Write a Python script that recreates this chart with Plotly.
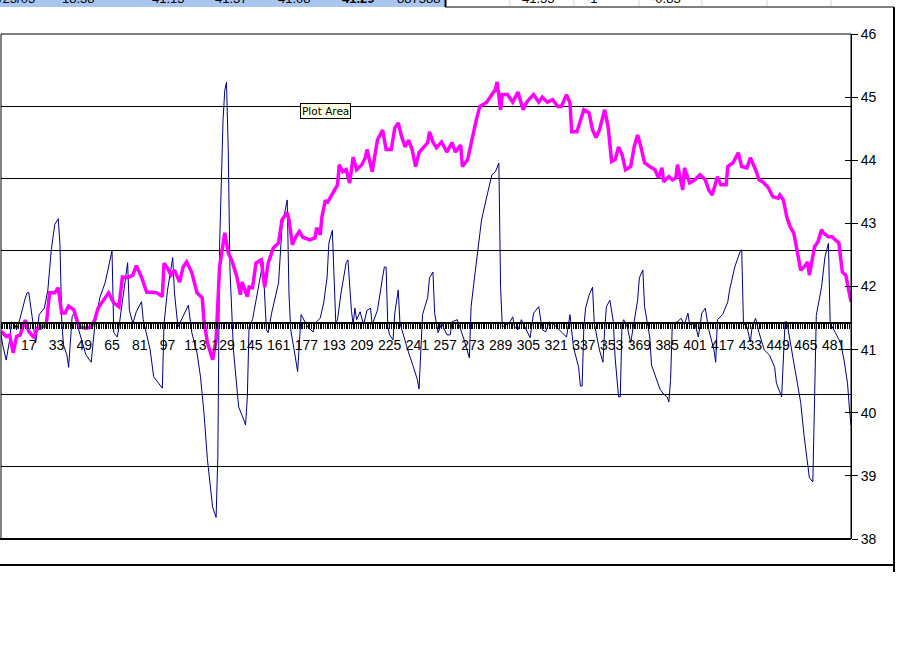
import plotly.graph_objects as go

# ---------------- data ----------------
mag_idx = [1, 4, 6, 8, 10, 12, 15, 17, 20, 22, 24, 26, 27, 29, 32, 34, 36, 38, 40, 43, 46, 50, 53, 55, 57,
           61, 63, 66, 69, 71, 74, 77, 79, 82, 85, 88, 91, 94, 95, 97, 99, 101, 104, 106, 108, 111, 114, 117,
           118, 120, 123, 125, 127, 130, 132, 134, 137, 139, 140, 143, 144, 146, 148, 151, 153, 155, 158, 161,
           163, 166, 167, 169, 171, 173, 175, 179, 182, 183, 185, 186, 188, 189, 192, 195, 196, 198, 200, 202,
           204, 206, 209, 211, 212, 215, 218, 221, 223, 226, 228, 230, 232, 234, 236, 238, 240, 242, 247, 248,
           250, 252, 255, 258, 261, 263, 266, 267, 270, 273, 275, 277, 281, 284, 286, 287, 289, 290, 293, 296,
           299, 302, 304, 308, 311, 313, 316, 319, 322, 324, 327, 329, 330, 333, 335, 337, 340, 342, 344, 346,
           349, 351, 353, 355, 357, 359, 361, 364, 366, 368, 370, 372, 375, 378, 380, 382, 383, 386, 388, 390,
           391, 394, 395, 398, 401, 404, 407, 409, 411, 414, 416, 419, 420, 423, 426, 428, 431, 433, 436, 438,
           440, 443, 446, 449, 450, 452, 454, 456, 458, 460, 462, 464, 466, 467, 470, 472, 474, 475, 478, 480,
           482, 484, 486, 488, 490, 491]
mag_val = [41.29, 41.21, 41.23, 40.95, 41.21, 41.23, 41.47, 41.29, 41.19, 41.34, 41.34, 41.39, 41.36, 41.90,
           41.90, 41.98, 41.58, 41.58, 41.69, 41.63, 41.36, 41.34, 41.36, 41.47, 41.66, 41.82, 41.90, 41.74,
           41.68, 42.15, 42.14, 42.18, 42.33, 42.15, 41.91, 41.91, 41.90, 41.84, 42.37, 42.29, 42.18, 42.26,
           42.07, 42.31, 42.39, 42.22, 41.90, 41.82, 41.47, 41.11, 40.84, 41.15, 42.31, 42.85, 42.53, 42.42,
           42.15, 41.87, 42.07, 41.84, 41.99, 41.98, 42.37, 42.42, 41.99, 42.37, 42.61, 42.69, 43.06, 43.17,
           43.06, 42.66, 42.79, 42.87, 42.78, 42.74, 42.77, 42.93, 42.82, 43.10, 43.37, 43.32, 43.48, 43.61,
           43.93, 43.82, 43.85, 43.64, 44.05, 43.85, 43.93, 44.04, 44.17, 43.82, 44.32, 44.48, 44.17, 44.17,
           44.51, 44.59, 44.37, 44.21, 44.32, 44.17, 43.90, 44.12, 44.28, 44.45, 44.29, 44.20, 44.29, 44.13,
           44.28, 44.13, 44.24, 43.90, 44.01, 44.43, 44.64, 44.85, 44.92, 45.04, 45.12, 45.24, 44.80, 45.04,
           45.04, 44.92, 45.08, 44.80, 44.92, 45.04, 44.92, 45.00, 44.92, 44.96, 44.85, 44.85, 45.04, 44.91,
           44.45, 44.45, 44.64, 44.80, 44.75, 44.48, 44.36, 44.48, 44.80, 44.53, 43.98, 44.01, 44.21, 44.09,
           43.85, 43.90, 44.21, 44.40, 44.20, 43.96, 43.90, 43.85, 43.72, 43.88, 43.66, 43.74, 43.69, 43.72,
           43.93, 43.53, 43.88, 43.64, 43.69, 43.77, 43.69, 43.53, 43.45, 43.74, 43.61, 43.61, 43.90, 43.96,
           44.12, 43.90, 43.88, 44.04, 43.85, 43.69, 43.66, 43.58, 43.42, 43.40, 43.45, 43.37, 43.10, 42.94,
           42.85, 42.58, 42.26, 42.31, 42.39, 42.18, 42.63, 42.71, 42.90, 42.85, 42.79, 42.79, 42.74, 42.69,
           42.23, 42.18, 41.90, 41.76]

blue_idx = [1, 2, 4, 6, 7, 9, 10, 12, 15, 16, 17, 19, 20, 21, 23, 26, 28, 30, 32, 34, 35, 36, 37, 39, 40, 42,
            43, 46, 50, 53, 55, 58, 61, 63, 65, 66, 68, 69, 72, 74, 75, 77, 79, 82, 83, 87, 89, 94, 95, 97, 100,
            101, 103, 105, 107, 109, 111, 114, 116, 117, 118, 120, 123, 125, 126, 127, 128, 129, 130, 131, 132,
            133, 135, 137, 138, 141, 142, 143, 144, 146, 149, 152, 154, 155, 157, 161, 163, 166, 167, 168, 170,
            172, 174, 175, 178, 181, 182, 185, 187, 189, 190, 192, 194, 195, 197, 200, 201, 203, 204, 205, 206,
            208, 210, 212, 214, 215, 218, 221, 222, 223, 224, 225, 227, 228, 230, 231, 234, 236, 238, 241, 242,
            244, 247, 248, 250, 251, 252, 253, 255, 258, 260, 261, 264, 265, 268, 271, 272, 274, 276, 278, 281,
            284, 286, 288, 289, 290, 292, 294, 296, 297, 299, 301, 302, 306, 308, 311, 313, 315, 317, 320, 324,
            327, 329, 331, 334, 335, 336, 337, 338, 340, 342, 343, 346, 348, 349, 350, 352, 354, 355, 357, 358,
            359, 360, 362, 364, 366, 368, 369, 371, 372, 375, 376, 379, 381, 383, 385, 386, 387, 388, 391, 393,
            395, 397, 398, 401, 403, 405, 407, 409, 412, 413, 414, 417, 420, 421, 424, 427, 428, 429, 431, 433,
            434, 436, 438, 441, 444, 447, 448, 451, 452, 453, 454, 456, 459, 462, 464, 466, 467, 469, 470, 471,
            474, 476, 478, 479, 482, 485, 487, 489, 490, 491]
blue_val = [-0.17, -0.31, -0.52, -0.24, 0.01, -0.03, -0.10, 0.06, 0.34, 0.41, 0.42, 0.06, -0.17, -0.28, 0.11,
            0.20, 0.45, 1.01, 1.36, 1.44, 1.08, 0.04, -0.31, -0.45, -0.62, 0.08, 0.13, -0.13, -0.45, -0.55,
            -0.06, 0.35, 0.55, 0.77, 1.00, -0.14, -0.20, -0.06, 0.49, 0.83, 0.17, -0.01, 0.15, 0.29, 0.04,
            -0.38, -0.75, -0.91, -0.01, 0.45, 0.90, 0.41, -0.06, 0.04, 0.13, 0.24, -0.14, -0.42, -0.75, -0.97,
            -1.25, -1.90, -2.56, -2.70, -1.86, 1.05, 1.98, 2.81, 3.22, 3.33, 2.39, 0.73, -0.38, -0.97, -1.17,
            -1.35, -1.42, -1.03, -0.06, 0.04, 0.45, 0.84, -0.10, -0.14, 0.13, 0.55, 1.33, 1.70, 0.41, -0.10,
            -0.38, -0.68, 0.11, 0.06, -0.07, -0.13, -0.01, 0.06, 0.27, 0.63, 1.10, 1.28, -0.01, 0.04, 0.41,
            0.83, 0.87, 0.17, -0.03, 0.20, 0.04, 0.15, -0.03, 0.17, 0.20, -0.03, 0.17, 0.63, 0.77, 0.77, -0.06,
            -0.17, -0.24, 0.13, 0.45, -0.01, -0.28, -0.42, -0.56, -0.79, -0.92, 0.11, 0.35, 0.62, 0.70, 0.13,
            -0.01, -0.14, -0.01, -0.17, -0.17, 0.01, 0.04, -0.03, -0.24, -0.49, 0.22, 0.63, 1.01, 1.42, 1.74,
            2.05, 2.09, 2.21, 0.49, -0.06, -0.03, -0.01, 0.08, -0.06, -0.10, 0.04, -0.01, -0.21, 0.13, 0.22,
            -0.10, -0.13, 0.01, -0.03, -0.13, -0.20, 0.11, -0.34, -0.62, -0.88, -0.88, -0.06, 0.20, 0.38, 0.49,
            -0.01, -0.38, -0.55, -0.10, 0.22, 0.31, 0.01, -0.48, -1.03, -1.03, -0.01, 0.04, -0.06, -0.28, -0.01,
            0.31, 0.62, 0.73, 0.22, -0.20, -0.59, -0.79, -0.93, -0.99, -1.03, -1.10, -0.79, -0.01, 0.01, 0.06,
            -0.03, 0.13, -0.03, -0.01, -0.20, 0.13, 0.20, -0.10, -0.38, -0.55, 0.04, 0.11, 0.29, 0.45, 0.77,
            0.98, 1.01, -0.01, -0.06, -0.27, -0.06, 0.06, -0.14, -0.38, -0.45, -0.62, -0.84, -1.03, -0.52,
            0.01, 0.01, -0.28, -0.70, -1.11, -1.58, -1.99, -2.15, -2.21, -1.20, 0.10, 0.49, 0.91, 1.10, -0.01,
            -0.14, -0.28, -0.52, -0.84, -1.17, -1.42]

x_tickvals = [1, 17, 33, 49, 65, 81, 97, 113, 129, 145, 161, 177, 193, 209, 225, 241, 257, 273, 289, 305,
              321, 337, 353, 369, 385, 401, 417, 433, 449, 465, 481]
x_ticktext = [str(v) for v in x_tickvals]
right_ticks = [38, 39, 40, 41, 42, 43, 44, 45, 46]

sheet_left = ["/23/03", "18.38", "41.13", "41.37", "41.08", "41.29", "887388"]
sheet_right = ["41.33", "-1", "-0.83"]

# ---------------- layout helpers ----------------
W, H = 897, 645
L, R, T, B = 1, 46, 34, 106
PW, PH = W - L - R, H - T - B


def px(xp):
    return (xp - L) / PW


def py(yp):
    return (H - B - yp) / PH


fig = go.Figure()
fig.add_trace(go.Scatter(x=blue_idx, y=blue_val, mode="lines", yaxis="y",
                         line=dict(color="#000080", width=1), showlegend=False, hoverinfo="skip"))
fig.add_trace(go.Scatter(x=mag_idx, y=mag_val, mode="lines", yaxis="y2",
                         line=dict(color="#FF00FF", width=3.5), showlegend=False, hoverinfo="skip"))
# invisible trace to activate the inside-tick overlay axis
fig.add_trace(go.Scatter(x=[mag_idx[0]], y=[mag_val[0]], mode="lines", yaxis="y3",
                         line=dict(color="rgba(0,0,0,0)"), showlegend=False, hoverinfo="skip"))

font = "Liberation Sans, Arial, sans-serif"

fig.update_layout(
    width=W, height=H, autosize=False,
    margin=dict(l=L, r=R, t=T, b=B, pad=0, autoexpand=False),
    paper_bgcolor="white", plot_bgcolor="white",
    xaxis=dict(range=[1, 491], anchor="free", position=3 / 7,
               showline=True, linecolor="black", linewidth=2,
               tickmode="array", tickvals=x_tickvals, ticktext=x_ticktext,
               ticks="outside", ticklen=5, tickcolor="black", tickwidth=1,
               minor=dict(dtick=1, tick0=1, ticks="outside", ticklen=5, tickcolor="black", tickwidth=1,
                          showgrid=False),
               tickangle=0, ticklabelstandoff=5, automargin=False,
               tickfont=dict(family=font, size=14, color="black"),
               showgrid=False, zeroline=False, fixedrange=True),
    yaxis=dict(range=[-3, 4], dtick=1, tick0=0, showgrid=True, gridcolor="black", gridwidth=1,
               showticklabels=False, ticks="", showline=False, zeroline=False, fixedrange=True,
               automargin=False),
    yaxis2=dict(range=[38, 46], overlaying="y", side="right", anchor="x",
                tickmode="array", tickvals=right_ticks,
                showline=True, linecolor="black", linewidth=1,
                ticks="outside", ticklen=6, tickcolor="black", automargin=False,
                tickfont=dict(family=font, size=14, color="black"),
                showgrid=False, zeroline=False, fixedrange=True),
    yaxis3=dict(range=[38, 46], overlaying="y", side="right", anchor="x",
                tickmode="array", tickvals=right_ticks, showticklabels=False,
                ticks="inside", ticklen=6, tickcolor="black", automargin=False,
                showline=False, showgrid=False, zeroline=False, fixedrange=True),
)

shapes = []
# plot area border
shapes.append(dict(type="rect", xref="paper", yref="paper", x0=0, x1=1, y0=0, y1=1,
                   line=dict(color="black", width=1)))
shapes.append(dict(type="line", xref="paper", yref="paper", x0=px(0), x1=px(851), y0=py(539), y1=py(539),
                   line=dict(color="black", width=2)))
# chart area borders
shapes.append(dict(type="line", xref="paper", yref="paper", x0=px(-2), x1=px(894), y0=py(565), y1=py(565),
                   line=dict(color="black", width=2)))
shapes.append(dict(type="line", xref="paper", yref="paper", x0=px(894), x1=px(894), y0=py(7), y1=py(572),
                   line=dict(color="black", width=2)))
shapes.append(dict(type="line", xref="paper", yref="paper", x0=px(445), x1=px(894), y0=py(7), y1=py(7),
                   line=dict(color="black", width=1)))
# spreadsheet row behind the chart
shapes.append(dict(type="rect", xref="paper", yref="paper", x0=px(-2), x1=px(445), y0=py(7), y1=py(-3),
                   fillcolor="#A9C6EE", line=dict(width=0), layer="below"))
shapes.append(dict(type="line", xref="paper", yref="paper", x0=px(445.5), x1=px(445.5), y0=py(7), y1=py(-3),
                   line=dict(color="black", width=2)))
for cx in [510, 574, 639, 702, 767, 831]:
    shapes.append(dict(type="line", xref="paper", yref="paper", x0=px(cx), x1=px(cx), y0=py(6), y1=py(-3),
                       line=dict(color="#C8D8E8", width=1)))
fig.update_layout(shapes=shapes)

ann = []
left_pos = [37, 97, 187, 250, 313, 377, 442]
for txt, xr in zip(sheet_left, left_pos):
    bold = txt == "41.29"
    ann.append(dict(text=("<b>%s</b>" % txt) if bold else txt, xref="paper", yref="paper",
                    x=px(xr), y=py(8.5), xanchor="right", yanchor="bottom", showarrow=False,
                    font=dict(family=font, size=13, color="black")))
right_pos = [557, 600, 683]
for txt, xr in zip(sheet_right, right_pos):
    ann.append(dict(text=txt, xref="paper", yref="paper",
                    x=px(xr), y=py(8.5), xanchor="right", yanchor="bottom", showarrow=False,
                    font=dict(family=font, size=13, color="black")))
# tooltip
ann.append(dict(text="Plot Area", xref="paper", yref="paper", x=px(325.5), y=py(111),
                xanchor="center", yanchor="middle", showarrow=False,
                bgcolor="#FFFFE1", bordercolor="black", borderwidth=1, borderpad=1,
                font=dict(family="DejaVu Sans, sans-serif", size=10.5, color="black")))
fig.update_layout(annotations=ann)

fig.write_html("out.html", config={"displayModeBar": False},
               post_script="document.body.style.margin='0';document.body.style.overflow='hidden';")
